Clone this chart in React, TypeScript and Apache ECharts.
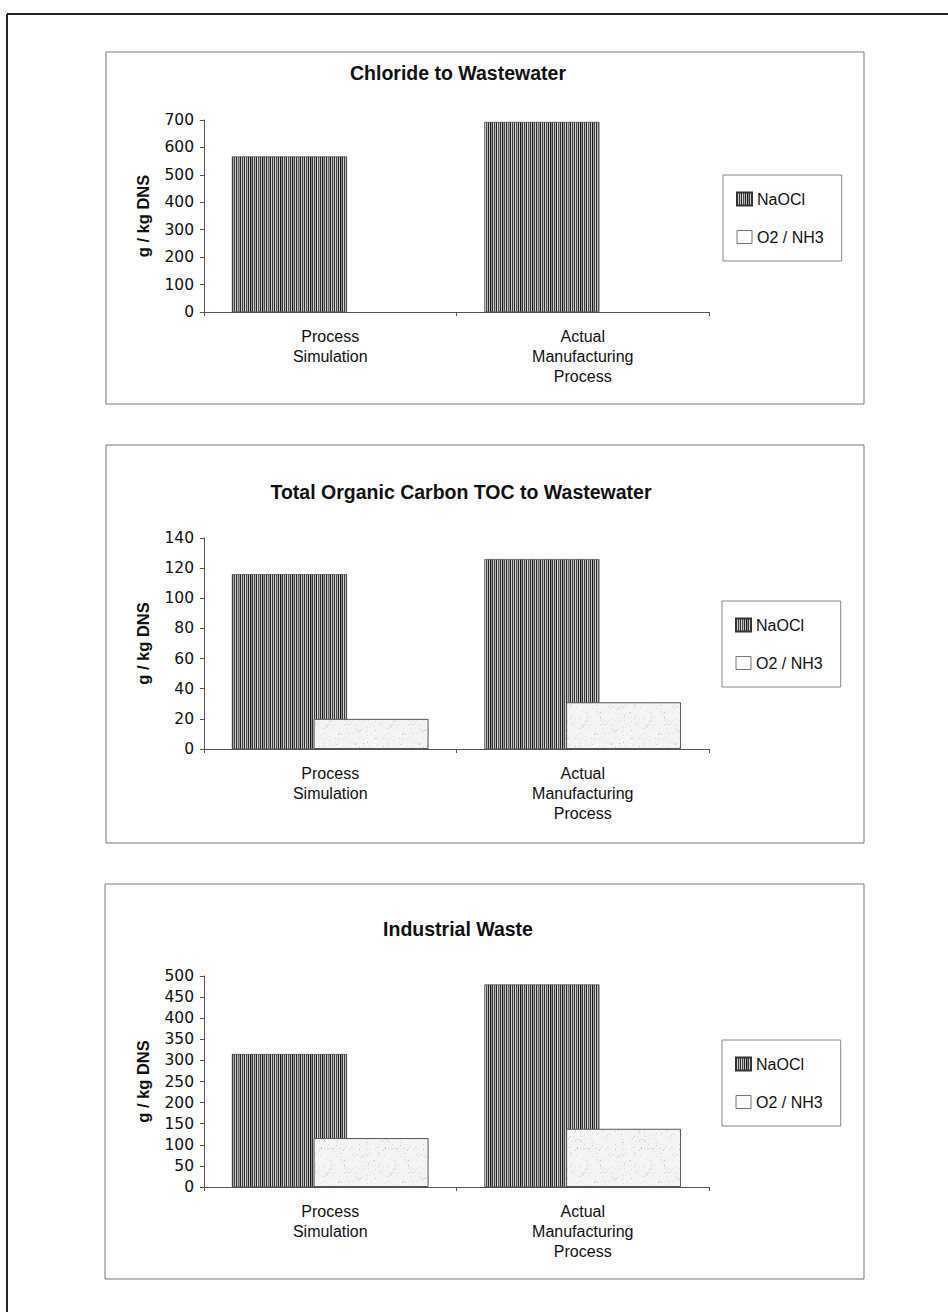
import React, { useEffect, useRef } from 'react';
import * as echarts from 'echarts';

// ---- data ----
const categories = ['Process\nSimulation', 'Actual\nManufacturing\nProcess'];
const seriesNames = ['NaOCl', 'O2 / NH3'];
const chartTitles = [
  'Chloride to Wastewater',
  'Total Organic Carbon TOC to Wastewater',
  'Industrial Waste',
];
const yAxisName = 'g / kg DNS';

const chlorideNaOCl = [567, 693];
const chlorideO2NH3 = [0, 0];
const tocNaOCl = [116, 126];
const tocO2NH3 = [20, 31];
const wasteNaOCl = [315, 480];
const wasteO2NH3 = [116, 138];

const yMax = [700, 140, 500];
const yStep = [100, 20, 50];

const FONT = '"Liberation Sans", Arial, Helvetica, sans-serif';
const TICK_FONT = '"DejaVu Sans", "Liberation Sans", sans-serif';

function makeStripeCanvas(): HTMLCanvasElement {
  const cols = [
    '#1f1f1f', '#d0d0d0', '#3b3b3b', '#c0c0c0', '#2a2a2a', '#d8d8d8',
    '#4a4a4a', '#b5b5b5', '#262626', '#c8c8c8', '#141414', '#949494',
    '#333333', '#d2d2d2', '#3f3f3f', '#bababa', '#202020', '#dcdcdc',
    '#555555', '#b0b0b0', '#2d2d2d', '#c5c5c5', '#181818', '#a0a0a0',
    '#444444', '#d0d0d0', '#2b2b2b', '#bebebe', '#6a6a6a', '#9a9a9a',
  ];
  const c = document.createElement('canvas');
  c.width = cols.length;
  c.height = 8;
  const ctx = c.getContext('2d')!;
  cols.forEach((col, i) => {
    ctx.fillStyle = col;
    ctx.fillRect(i, 0, 1, 8);
  });
  return c;
}

function makeSpeckleCanvas(): HTMLCanvasElement {
  const size = 64;
  const c = document.createElement('canvas');
  c.width = size;
  c.height = size;
  const ctx = c.getContext('2d')!;
  ctx.fillStyle = '#f4f4f4';
  ctx.fillRect(0, 0, size, size);
  let s = 0x2545f491;
  const next = () => {
    s ^= s << 13;
    s ^= s >>> 17;
    s ^= s << 5;
    return (s >>> 0) / 4294967296;
  };
  for (let i = 0; i < 260; i++) {
    const x = Math.floor(next() * size);
    const y = Math.floor(next() * size);
    ctx.fillStyle = next() < 0.3 ? '#c4c4c4' : '#dddddd';
    ctx.fillRect(x, y, 1, 1);
  }
  return c;
}

export default function App() {
  const ref = useRef<HTMLDivElement>(null);

  useEffect(() => {
    if (!ref.current) return;
    const chart = echarts.init(ref.current, null, { renderer: 'svg' });

    const stripeCanvas = makeStripeCanvas();
    const speckleCanvas = makeSpeckleCanvas();
    const stripe: any = {
      image: stripeCanvas,
      repeat: 'repeat',
      imageWidth: stripeCanvas.width,
      imageHeight: stripeCanvas.height,
    };
    const speckle: any = {
      image: speckleCanvas,
      repeat: 'repeat',
      imageWidth: speckleCanvas.width,
      imageHeight: speckleCanvas.height,
    };

    const panels = [
      { box: [106, 52, 758, 352], gridTop: 120, gridH: 192, titleX: 458, titleY: 73, legendLeft: 723, legendTop: 175 },
      { box: [106, 445, 758, 398], gridTop: 538, gridH: 211, titleX: 461, titleY: 492, legendLeft: 722, legendTop: 601 },
      { box: [105, 884, 759, 395], gridTop: 976, gridH: 211, titleX: 458, titleY: 929, legendLeft: 722, legendTop: 1040 },
    ];

    const seriesData = [
      [chlorideNaOCl, chlorideO2NH3],
      [tocNaOCl, tocO2NH3],
      [wasteNaOCl, wasteO2NH3],
    ];

    const graphics: any[] = [
      { type: 'line', silent: true, shape: { x1: 7, y1: 14, x2: 948, y2: 14 }, style: { stroke: '#222', lineWidth: 2 } },
      { type: 'line', silent: true, shape: { x1: 7, y1: 14, x2: 7, y2: 1312 }, style: { stroke: '#222', lineWidth: 2 } },
    ];
    panels.forEach((p) => {
      graphics.push({
        type: 'rect',
        silent: true,
        shape: { x: p.box[0], y: p.box[1], width: p.box[2], height: p.box[3] },
        style: { fill: 'none', stroke: '#7a7a7a', lineWidth: 1 },
      });
    });

    const toBarData = (arr: number[]) =>
      arr.map((v) => (v === 0 ? { value: v, itemStyle: { borderWidth: 0 } } : v));

    const option: any = {
      animation: false,
      backgroundColor: '#ffffff',
      title: panels.map((p, i) => ({
        text: chartTitles[i],
        left: p.titleX,
        top: p.titleY,
        textAlign: 'center',
        textVerticalAlign: 'middle',
        padding: 0,
        textStyle: { fontFamily: FONT, fontWeight: 'bold', fontSize: 19.5, color: '#111' },
      })),
      legend: panels.map((p) => ({
        orient: 'vertical',
        left: p.legendLeft,
        top: p.legendTop,
        padding: [16, 18, 16, 13],
        itemGap: 22,
        itemWidth: 15,
        itemHeight: 13,
        borderColor: '#888',
        borderWidth: 1,
        borderRadius: 0,
        selectedMode: false,
        textStyle: { fontFamily: FONT, fontSize: 16, color: '#111' },
        data: [
          { name: seriesNames[0], icon: 'rect' },
          {
            name: seriesNames[1],
            icon: 'rect',
            itemStyle: { color: '#fbfbfb', borderColor: '#777', borderWidth: 1 },
          },
        ],
      })),
      grid: panels.map((p) => ({ left: 204, top: p.gridTop, width: 505, height: p.gridH })),
      xAxis: panels.map((p, i) => ({
        type: 'category',
        gridIndex: i,
        data: categories,
        axisLine: { show: true, lineStyle: { color: '#555', width: 1 } },
        axisTick: { show: true, length: 4, lineStyle: { color: '#555' } },
        axisLabel: {
          interval: 0,
          margin: 14,
          fontSize: 16,
          lineHeight: 20,
          fontFamily: FONT,
          color: '#111',
        },
        splitLine: { show: false },
      })),
      yAxis: panels.map((p, i) => ({
        type: 'value',
        gridIndex: i,
        min: 0,
        max: yMax[i],
        interval: yStep[i],
        name: yAxisName,
        nameLocation: 'middle',
        nameRotate: 90,
        nameGap: 53,
        nameTextStyle: { fontFamily: FONT, fontWeight: 'bold', fontSize: 16.5, color: '#111' },
        axisLine: { show: true, lineStyle: { color: '#555', width: 1 } },
        axisTick: { show: true, length: 4, lineStyle: { color: '#555' } },
        axisLabel: { margin: 10, fontSize: 15.5, fontFamily: TICK_FONT, color: '#111' },
        splitLine: { show: false },
      })),
      series: seriesData.flatMap((pair, i) => [
        {
          type: 'bar',
          name: seriesNames[0],
          xAxisIndex: i,
          yAxisIndex: i,
          data: toBarData(pair[0]),
          barWidth: 115,
          barGap: '-29%',
          itemStyle: { color: stripe, borderColor: '#333', borderWidth: 0.6 },
          emphasis: { disabled: true },
        },
        {
          type: 'bar',
          name: seriesNames[1],
          xAxisIndex: i,
          yAxisIndex: i,
          data: toBarData(pair[1]),
          barWidth: 115,
          barGap: '-29%',
          itemStyle: { color: speckle, borderColor: '#555', borderWidth: 1 },
          emphasis: { disabled: true },
        },
      ]),
      graphic: graphics,
    };

    chart.setOption(option);
    return () => chart.dispose();
  }, []);

  return (
    <div
      ref={ref}
      style={{ position: 'absolute', left: 0, top: 0, width: 948, height: 1312, background: '#fff' }}
    />
  );
}
